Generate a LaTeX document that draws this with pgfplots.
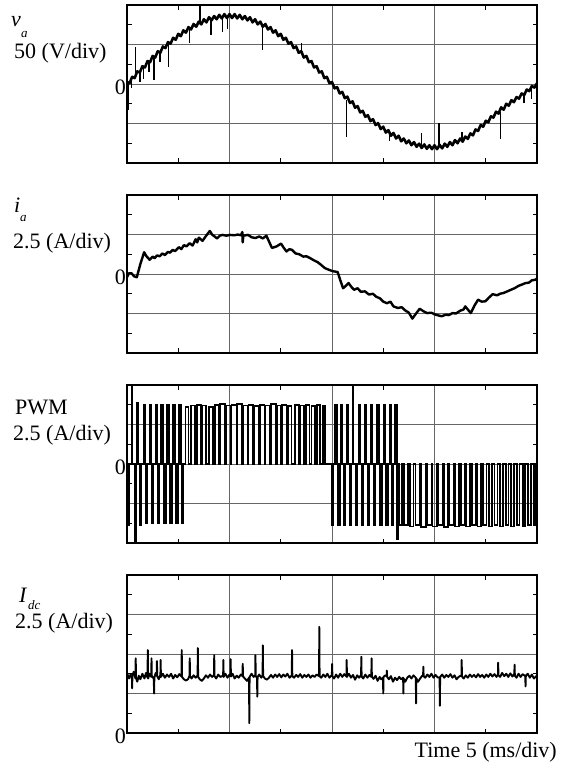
\documentclass[border=0pt]{standalone}
\usepackage{pgfplots}
\pgfplotsset{compat=1.18}
\usepackage{fontspec}
\setmainfont{Liberation Serif}
\newcommand{\lblfont}{\fontsize{22bp}{24bp}\selectfont}
\newcommand{\subfont}{\fontsize{13bp}{14bp}\selectfont}
\pgfplotsset{osc/.style={scale only axis, width=410bp, height=158bp, anchor=north west,
  xmin=0, xmax=4, xtick={0,1,2,3,4}, xticklabels={}, minor xtick={0.5,1.5,2.5,3.5},
  grid=major, major grid style={black!60, line width=0.7bp},
  major tick length=0pt, minor tick length=4.5bp, tick style={black, line width=0.8bp},
  axis line style={line width=1.3bp}, unbounded coords=jump,
  yticklabel style={font=\lblfont, inner sep=1bp, yshift=-3bp}}}
\begin{document}
\begin{tikzpicture}
\useasboundingbox (0,0) rectangle (573bp,-767bp);
% ---------- panel 1: v_a ----------
\begin{axis}[osc, at={(127bp,-5bp)}, ymin=-2, ymax=2, ytick={-2,-1,0,1,2}, yticklabels={,,0,,}, minor ytick={-1.5,-0.5,0.5,1.5}]
\addplot[black, line width=2.6bp, line join=round] coordinates {
(0.000,0.05)(0.025,0.02)(0.050,0.18)(0.075,0.15)(0.100,0.32)(0.125,0.29)(0.150,0.45)(0.175,0.42)(0.200,0.58)(0.225,0.55)(0.250,0.71)(0.275,0.67)(0.300,0.83)(0.325,0.79)(0.350,0.95)(0.375,0.91)(0.400,1.06)(0.425,1.02)(0.450,1.17)(0.475,1.12)(0.500,1.27)(0.525,1.21)(0.550,1.36)(0.575,1.30)(0.600,1.44)(0.625,1.38)(0.650,1.52)(0.675,1.45)(0.700,1.58)(0.725,1.51)(0.750,1.64)(0.775,1.56)(0.800,1.69)(0.825,1.61)(0.850,1.72)(0.875,1.64)(0.900,1.75)(0.925,1.66)(0.950,1.77)(0.975,1.67)(1.000,1.77)
(1.025,1.67)(1.050,1.77)(1.075,1.66)(1.100,1.75)(1.125,1.64)(1.150,1.72)(1.175,1.61)(1.200,1.69)(1.225,1.56)(1.250,1.64)(1.275,1.51)(1.300,1.58)(1.325,1.45)(1.350,1.52)(1.375,1.38)(1.400,1.44)(1.425,1.30)(1.450,1.36)(1.475,1.21)(1.500,1.27)(1.525,1.12)(1.550,1.17)(1.575,1.02)(1.600,1.06)(1.625,0.91)(1.650,0.95)(1.675,0.79)(1.700,0.83)(1.725,0.67)(1.750,0.71)(1.775,0.55)(1.800,0.58)(1.825,0.42)(1.850,0.45)(1.875,0.29)(1.900,0.32)(1.925,0.15)(1.950,0.18)(1.975,0.02)(2.000,0.05)
(2.025,-0.11)(2.050,-0.08)(2.075,-0.24)(2.100,-0.20)(2.125,-0.36)(2.150,-0.32)(2.175,-0.48)(2.200,-0.44)(2.225,-0.60)(2.250,-0.56)(2.275,-0.72)(2.300,-0.68)(2.325,-0.83)(2.350,-0.79)(2.375,-0.94)(2.400,-0.89)(2.425,-1.04)(2.450,-0.99)(2.475,-1.14)(2.500,-1.08)(2.525,-1.23)(2.550,-1.17)(2.575,-1.31)(2.600,-1.24)(2.625,-1.38)(2.650,-1.31)(2.675,-1.45)(2.700,-1.38)(2.725,-1.50)(2.750,-1.43)(2.775,-1.55)(2.800,-1.47)(2.825,-1.59)(2.850,-1.51)(2.875,-1.62)(2.900,-1.53)(2.925,-1.64)(2.950,-1.55)(2.975,-1.65)(3.000,-1.55)
(3.025,-1.65)(3.050,-1.54)(3.075,-1.63)(3.100,-1.51)(3.125,-1.59)(3.150,-1.47)(3.175,-1.55)(3.200,-1.42)(3.225,-1.50)(3.250,-1.38)(3.275,-1.46)(3.300,-1.33)(3.325,-1.39)(3.350,-1.25)(3.375,-1.30)(3.400,-1.15)(3.425,-1.19)(3.450,-1.04)(3.475,-1.08)(3.500,-0.93)(3.525,-0.97)(3.550,-0.82)(3.575,-0.85)(3.600,-0.70)(3.625,-0.75)(3.650,-0.59)(3.675,-0.65)(3.700,-0.50)(3.725,-0.55)(3.750,-0.41)(3.775,-0.46)(3.800,-0.33)(3.825,-0.37)(3.850,-0.24)(3.875,-0.28)(3.900,-0.14)(3.925,-0.18)(3.950,-0.05)(3.975,-0.09)(4.000,0.02)};
\addplot[black, line width=1.4bp] coordinates {
(0.010,0.05)(0.010,-0.66)(0.010,nan)
(0.045,0.15)(0.045,-0.10)(0.045,nan)
(0.084,0.20)(0.084,0.94)(0.084,nan)
(0.125,0.30)(0.125,0.05)(0.125,nan)
(0.163,0.40)(0.163,0.12)(0.163,nan)
(0.215,0.58)(0.215,0.30)(0.215,nan)
(0.265,0.68)(0.265,0.10)(0.265,nan)
(0.320,0.80)(0.320,0.55)(0.320,nan)
(0.404,1.04)(0.404,0.44)(0.404,nan)
(0.607,1.42)(0.607,1.03)(0.607,nan)
(0.713,1.55)(0.713,1.98)(0.713,nan)
(0.818,1.65)(0.818,1.25)(0.818,nan)
(0.930,1.70)(0.930,1.32)(0.930,nan)
(0.980,1.70)(0.980,1.40)(0.980,nan)
(1.323,1.50)(1.323,0.86)(1.323,nan)
(1.700,0.80)(1.700,1.05)(1.700,nan)
(2.143,-0.40)(2.143,-1.34)(2.143,nan)
(2.560,-1.20)(2.560,-1.45)(2.560,nan)
(2.873,-1.58)(2.873,-1.25)(2.873,nan)
(3.043,-1.60)(3.043,-0.98)(3.043,nan)
(3.268,-1.42)(3.268,-1.22)(3.268,nan)
(3.643,-0.70)(3.643,-1.40)(3.643,nan)
(3.873,-0.25)(3.873,-0.48)(3.873,nan)
(3.948,-0.08)(3.948,-0.38)};
\end{axis}
% ---------- panel 2: i_a ----------
\begin{axis}[osc, at={(127bp,-195bp)}, ymin=-2, ymax=2, ytick={-2,-1,0,1,2}, yticklabels={,,0,,}, minor ytick={-1.5,-0.5,0.5,1.5}]
\addplot[black, line width=2.4bp, line join=round] coordinates {
(0.000,-0.08)(0.020,0.02)(0.043,0.02)(0.070,-0.06)(0.096,-0.08)(0.130,0.25)(0.167,0.55)(0.190,0.45)(0.221,0.36)(0.250,0.44)(0.270,0.40)(0.292,0.47)(0.320,0.45)(0.345,0.52)(0.370,0.48)(0.399,0.56)(0.420,0.54)(0.445,0.61)(0.470,0.58)(0.506,0.68)(0.530,0.63)(0.555,0.73)(0.580,0.70)(0.612,0.78)(0.640,0.72)(0.670,0.88)(0.685,0.80)(0.701,0.92)(0.737,0.84)(0.770,0.96)(0.808,1.09)(0.830,1.00)(0.879,0.90)(0.905,0.97)(0.933,0.99)(0.970,0.97)(1.004,0.99)(1.050,0.98)(1.080,1.00)(1.111,0.98)(1.125,1.06)(1.129,0.80)(1.135,0.97)(1.182,0.99)(1.215,0.93)(1.253,0.91)(1.290,0.95)(1.325,0.90)(1.360,0.97)(1.414,0.66)(1.460,0.70)(1.503,0.77)(1.530,0.66)(1.556,0.57)(1.585,0.63)(1.610,0.61)(1.645,0.52)(1.681,0.50)(1.720,0.44)(1.750,0.45)(1.788,0.40)(1.820,0.35)(1.860,0.30)(1.894,0.23)(1.930,0.15)(1.966,0.11)(2.010,0.07)(2.055,0.05)(2.080,-0.15)(2.108,-0.36)(2.135,-0.30)(2.161,-0.23)(2.190,-0.33)(2.215,-0.40)(2.250,-0.36)(2.280,-0.45)(2.322,-0.44)(2.360,-0.52)(2.400,-0.50)(2.428,-0.57)(2.470,-0.62)(2.500,-0.70)(2.536,-0.74)(2.570,-0.70)(2.600,-0.82)(2.642,-0.86)(2.680,-0.84)(2.713,-0.92)(2.750,-0.98)(2.784,-1.13)(2.820,-1.00)(2.856,-0.88)(2.890,-0.94)(2.927,-0.99)(2.970,-0.98)(3.000,-1.02)(3.040,-1.05)(3.070,-1.07)(3.110,-1.03)(3.140,-1.04)(3.176,-0.99)(3.210,-1.00)(3.250,-0.93)(3.283,-0.90)(3.300,-0.82)(3.319,-0.88)(3.354,-0.99)(3.390,-0.80)(3.425,-0.65)(3.460,-0.70)(3.497,-0.69)(3.530,-0.60)(3.568,-0.51)(3.610,-0.54)(3.640,-0.50)(3.674,-0.48)(3.710,-0.44)(3.745,-0.40)(3.781,-0.36)(3.820,-0.30)(3.850,-0.27)(3.888,-0.23)(3.920,-0.22)(3.950,-0.16)(3.978,-0.15)(4.000,-0.12)};
\end{axis}
% ---------- panel 3: PWM ----------
\begin{axis}[osc, at={(127bp,-385bp)}, ymin=-2, ymax=2, ytick={-2,-1,0,1,2}, yticklabels={,,0,,}, minor ytick={-1.5,-0.5,0.5,1.5}]
\addplot[black, line width=1.8bp, const plot] coordinates {
(0.000,0)(0.005,-1.55)(0.022,0)(0.045,1.95)(0.052,0)(0.080,-1.95)(0.086,0)(0.100,1.55)(0.112,0)(0.125,-1.55)(0.140,0)(0.160,1.50)(0.175,0)(0.185,-1.50)(0.200,0)(0.220,1.50)(0.232,0)(0.245,-1.50)(0.258,0)(0.280,1.50)(0.295,0)(0.305,-1.50)(0.318,0)(0.335,1.50)(0.352,0)(0.362,-1.50)(0.378,0)(0.392,1.50)(0.410,0)(0.420,-1.50)(0.436,0)(0.450,1.50)(0.470,0)(0.478,-1.50)(0.494,0)(0.505,1.50)(0.528,0)(0.535,-1.50)(0.548,0)
(0.570,1.45)(0.600,0)(0.625,1.48)(0.660,0)(0.680,1.50)(0.720,0)(0.735,1.48)(0.770,0)(0.800,1.45)(0.842,0)(0.855,1.50)(0.900,0)(0.910,1.52)(0.957,0)(0.965,1.48)(1.012,0)(1.020,1.50)(1.068,0)(1.075,1.52)(1.123,0)(1.130,1.48)(1.178,0)(1.185,1.50)(1.233,0)(1.240,1.47)(1.288,0)(1.295,1.50)(1.342,0)(1.350,1.48)(1.396,0)(1.405,1.52)(1.450,0)(1.460,1.48)(1.504,0)(1.515,1.50)(1.557,0)(1.570,1.47)(1.605,0)(1.640,1.50)(1.675,0)(1.690,1.48)(1.728,0)(1.745,1.50)(1.780,0)(1.800,1.47)(1.832,0)(1.855,1.50)(1.885,0)(1.910,1.48)(1.935,0)
(2.000,-1.55)(2.015,0)(2.030,1.50)(2.045,0)(2.060,-1.55)(2.075,0)(2.090,1.50)(2.100,0)(2.115,-1.55)(2.130,0)(2.145,1.50)(2.160,0)(2.175,-1.55)(2.190,0)(2.200,1.97)(2.206,0)(2.230,-1.55)(2.245,0)(2.262,1.50)(2.275,0)(2.290,-1.55)(2.305,0)(2.322,1.50)(2.335,0)(2.350,-1.55)(2.365,0)(2.382,1.50)(2.395,0)(2.410,-1.55)(2.425,0)(2.442,1.50)(2.455,0)(2.470,-1.55)(2.487,0)(2.502,1.50)(2.515,0)(2.528,-1.55)(2.545,0)(2.560,1.50)(2.575,0)(2.585,-1.55)(2.600,0)(2.618,1.50)(2.632,-1.90)(2.640,0)
(2.650,-1.55)(2.680,0)(2.705,-1.55)(2.738,0)(2.760,-1.58)(2.796,0)(2.815,-1.55)(2.855,0)(2.870,-1.60)(2.914,0)(2.925,-1.55)(2.970,0)(2.980,-1.58)(3.026,0)(3.035,-1.55)(3.081,0)(3.090,-1.60)(3.135,0)(3.145,-1.55)(3.189,0)(3.200,-1.58)(3.242,0)(3.255,-1.55)(3.295,0)(3.310,-1.58)(3.348,0)(3.365,-1.55)(3.401,0)(3.420,-1.58)(3.454,0)(3.475,-1.55)(3.507,0)(3.530,-1.58)(3.560,0)(3.585,-1.55)(3.614,0)(3.640,-1.58)(3.668,0)(3.695,-1.55)(3.722,0)(3.750,-1.58)(3.776,0)(3.805,-1.55)(3.830,0)(3.860,-1.58)(3.884,0)(3.915,-1.55)(3.938,0)(3.970,-1.55)(3.992,0)(4.000,0)};
\end{axis}
% ---------- panel 4: I_dc ----------
\begin{axis}[osc, at={(127bp,-575bp)}, ymin=0, ymax=4, ytick={0,1,2,3,4}, yticklabels={0,,,,}, minor ytick={0.5,1.5,2.5,3.5}]
\addplot[black, line width=1.9bp, line join=round] coordinates {
(0.000,1.52)(0.020,1.38)(0.035,1.48)(0.048,1.40)(0.050,1.13)(0.053,1.45)(0.065,1.55)(0.083,1.38)(0.085,1.89)(0.088,1.40)(0.100,1.30)(0.115,1.45)(0.130,1.36)(0.150,1.50)(0.170,1.38)(0.185,1.52)(0.200,1.40)(0.203,2.10)(0.206,1.38)(0.220,1.50)(0.237,1.42)(0.239,1.89)(0.242,1.45)(0.255,1.40)(0.262,1.36)(0.264,1.00)(0.267,1.40)(0.280,1.52)(0.290,1.45)(0.292,1.82)(0.295,1.44)(0.310,1.36)(0.326,1.48)(0.328,1.85)(0.331,1.42)(0.350,1.50)(0.370,1.40)(0.390,1.48)(0.410,1.42)(0.430,1.50)(0.450,1.38)(0.470,1.47)(0.490,1.41)(0.510,1.49)(0.532,1.43)(0.534,2.10)(0.537,1.42)(0.555,1.36)(0.575,1.33)(0.595,1.36)(0.610,1.45)(0.612,1.89)(0.615,1.44)(0.630,1.38)(0.650,1.46)(0.670,1.40)(0.689,1.46)(0.691,2.15)(0.694,1.42)(0.710,1.36)(0.730,1.32)(0.750,1.38)(0.770,1.46)(0.790,1.40)(0.810,1.48)(0.830,1.42)(0.849,1.47)(0.851,1.97)(0.854,1.44)(0.870,1.38)(0.890,1.48)(0.910,1.42)(0.938,1.45)(0.940,1.85)(0.943,1.42)(0.960,1.50)(0.980,1.40)(1.000,1.48)(1.009,1.44)(1.011,1.87)(1.014,1.43)(1.030,1.50)(1.050,1.38)(1.070,1.45)(1.090,1.40)(1.110,1.48)(1.127,1.44)(1.129,1.75)(1.132,1.43)(1.150,1.38)(1.170,1.32)(1.191,1.40)(1.193,0.25)(1.196,1.42)(1.215,1.50)(1.235,1.42)(1.251,1.46)(1.253,1.97)(1.256,1.44)(1.269,1.40)(1.271,0.92)(1.274,1.42)(1.290,1.48)(1.310,1.40)(1.323,1.46)(1.325,2.22)(1.328,1.44)(1.345,1.38)(1.365,1.35)(1.385,1.40)(1.405,1.47)(1.425,1.40)(1.445,1.48)(1.465,1.42)(1.485,1.49)(1.505,1.41)(1.525,1.48)(1.545,1.43)(1.565,1.50)(1.585,1.40)(1.608,1.46)(1.610,2.10)(1.613,1.44)(1.630,1.40)(1.650,1.47)(1.670,1.42)(1.690,1.49)(1.710,1.40)(1.730,1.47)(1.750,1.42)(1.770,1.48)(1.790,1.40)(1.810,1.46)(1.830,1.42)(1.850,1.48)(1.874,1.44)(1.876,2.69)(1.879,1.44)(1.895,1.40)(1.915,1.48)(1.935,1.42)(1.955,1.50)(1.975,1.40)(1.999,1.47)(2.001,1.75)(2.004,1.44)(2.020,1.38)(2.040,1.48)(2.060,1.40)(2.080,1.50)(2.100,1.42)(2.120,1.49)(2.141,1.43)(2.143,1.85)(2.146,1.42)(2.165,1.50)(2.185,1.40)(2.205,1.47)(2.225,1.35)(2.245,1.46)(2.265,1.40)(2.284,1.47)(2.286,1.93)(2.289,1.43)(2.305,1.38)(2.325,1.48)(2.345,1.40)(2.365,1.47)(2.384,1.42)(2.386,1.89)(2.389,1.43)(2.405,1.37)(2.425,1.45)(2.445,1.32)(2.465,1.42)(2.480,1.36)(2.498,1.40)(2.500,1.00)(2.503,1.42)(2.520,1.46)(2.533,1.44)(2.535,1.58)(2.538,1.42)(2.555,1.36)(2.575,1.44)(2.595,1.30)(2.615,1.40)(2.635,1.34)(2.655,1.42)(2.675,1.36)(2.694,1.40)(2.696,1.00)(2.699,1.38)(2.715,1.30)(2.735,1.40)(2.755,1.45)(2.775,1.38)(2.795,1.46)(2.818,1.40)(2.820,0.75)(2.823,1.38)(2.840,1.30)(2.860,1.38)(2.880,1.45)(2.889,1.45)(2.891,1.68)(2.894,1.44)(2.910,1.40)(2.930,1.48)(2.950,1.42)(2.970,1.50)(2.990,1.40)(3.010,1.47)(3.030,1.41)(3.050,1.40)(3.052,0.69)(3.055,1.42)(3.075,1.48)(3.095,1.40)(3.115,1.47)(3.135,1.42)(3.155,1.49)(3.175,1.40)(3.195,1.46)(3.215,1.36)(3.235,1.42)(3.263,1.46)(3.265,1.85)(3.268,1.43)(3.285,1.38)(3.305,1.46)(3.325,1.40)(3.345,1.48)(3.365,1.42)(3.385,1.47)(3.405,1.41)(3.425,1.49)(3.445,1.42)(3.465,1.47)(3.485,1.40)(3.505,1.48)(3.525,1.42)(3.545,1.50)(3.565,1.43)(3.585,1.49)(3.605,1.42)(3.619,1.48)(3.621,1.78)(3.624,1.46)(3.640,1.42)(3.660,1.52)(3.680,1.44)(3.700,1.50)(3.720,1.42)(3.740,1.51)(3.760,1.43)(3.779,1.50)(3.781,1.73)(3.784,1.45)(3.800,1.40)(3.820,1.50)(3.840,1.42)(3.860,1.49)(3.886,1.44)(3.888,1.18)(3.891,1.45)(3.910,1.50)(3.930,1.40)(3.950,1.48)(3.970,1.38)(4.000,1.46)};
\end{axis}
% ---------- labels ----------
\node[anchor=base west, inner sep=0] at (11bp,-26bp) {\lblfont\itshape v};
\node[anchor=base west, inner sep=0] at (21bp,-37bp) {\subfont\itshape a};
\node[anchor=base west, inner sep=0] at (14bp,-58bp) {\lblfont 50 (V/div)};
\node[anchor=base west, inner sep=0] at (14bp,-212bp) {\lblfont\itshape i};
\node[anchor=base west, inner sep=0] at (20bp,-221bp) {\subfont\itshape a};
\node[anchor=base west, inner sep=0] at (13bp,-248bp) {\lblfont 2.5 (A/div)};
\node[anchor=base west, inner sep=0] at (15bp,-414bp) {\lblfont PWM};
\node[anchor=base west, inner sep=0] at (13bp,-440bp) {\lblfont 2.5 (A/div)};
\node[anchor=base west, inner sep=0] at (19bp,-602bp) {\lblfont\itshape I};
\node[anchor=base west, inner sep=0] at (28bp,-609bp) {\subfont\itshape dc};
\node[anchor=base west, inner sep=0] at (15bp,-628bp) {\lblfont 2.5 (A/div)};
\node[anchor=base east, inner sep=0] at (557bp,-757bp) {\lblfont Time 5 (ms/div)};
\end{tikzpicture}
\end{document}
